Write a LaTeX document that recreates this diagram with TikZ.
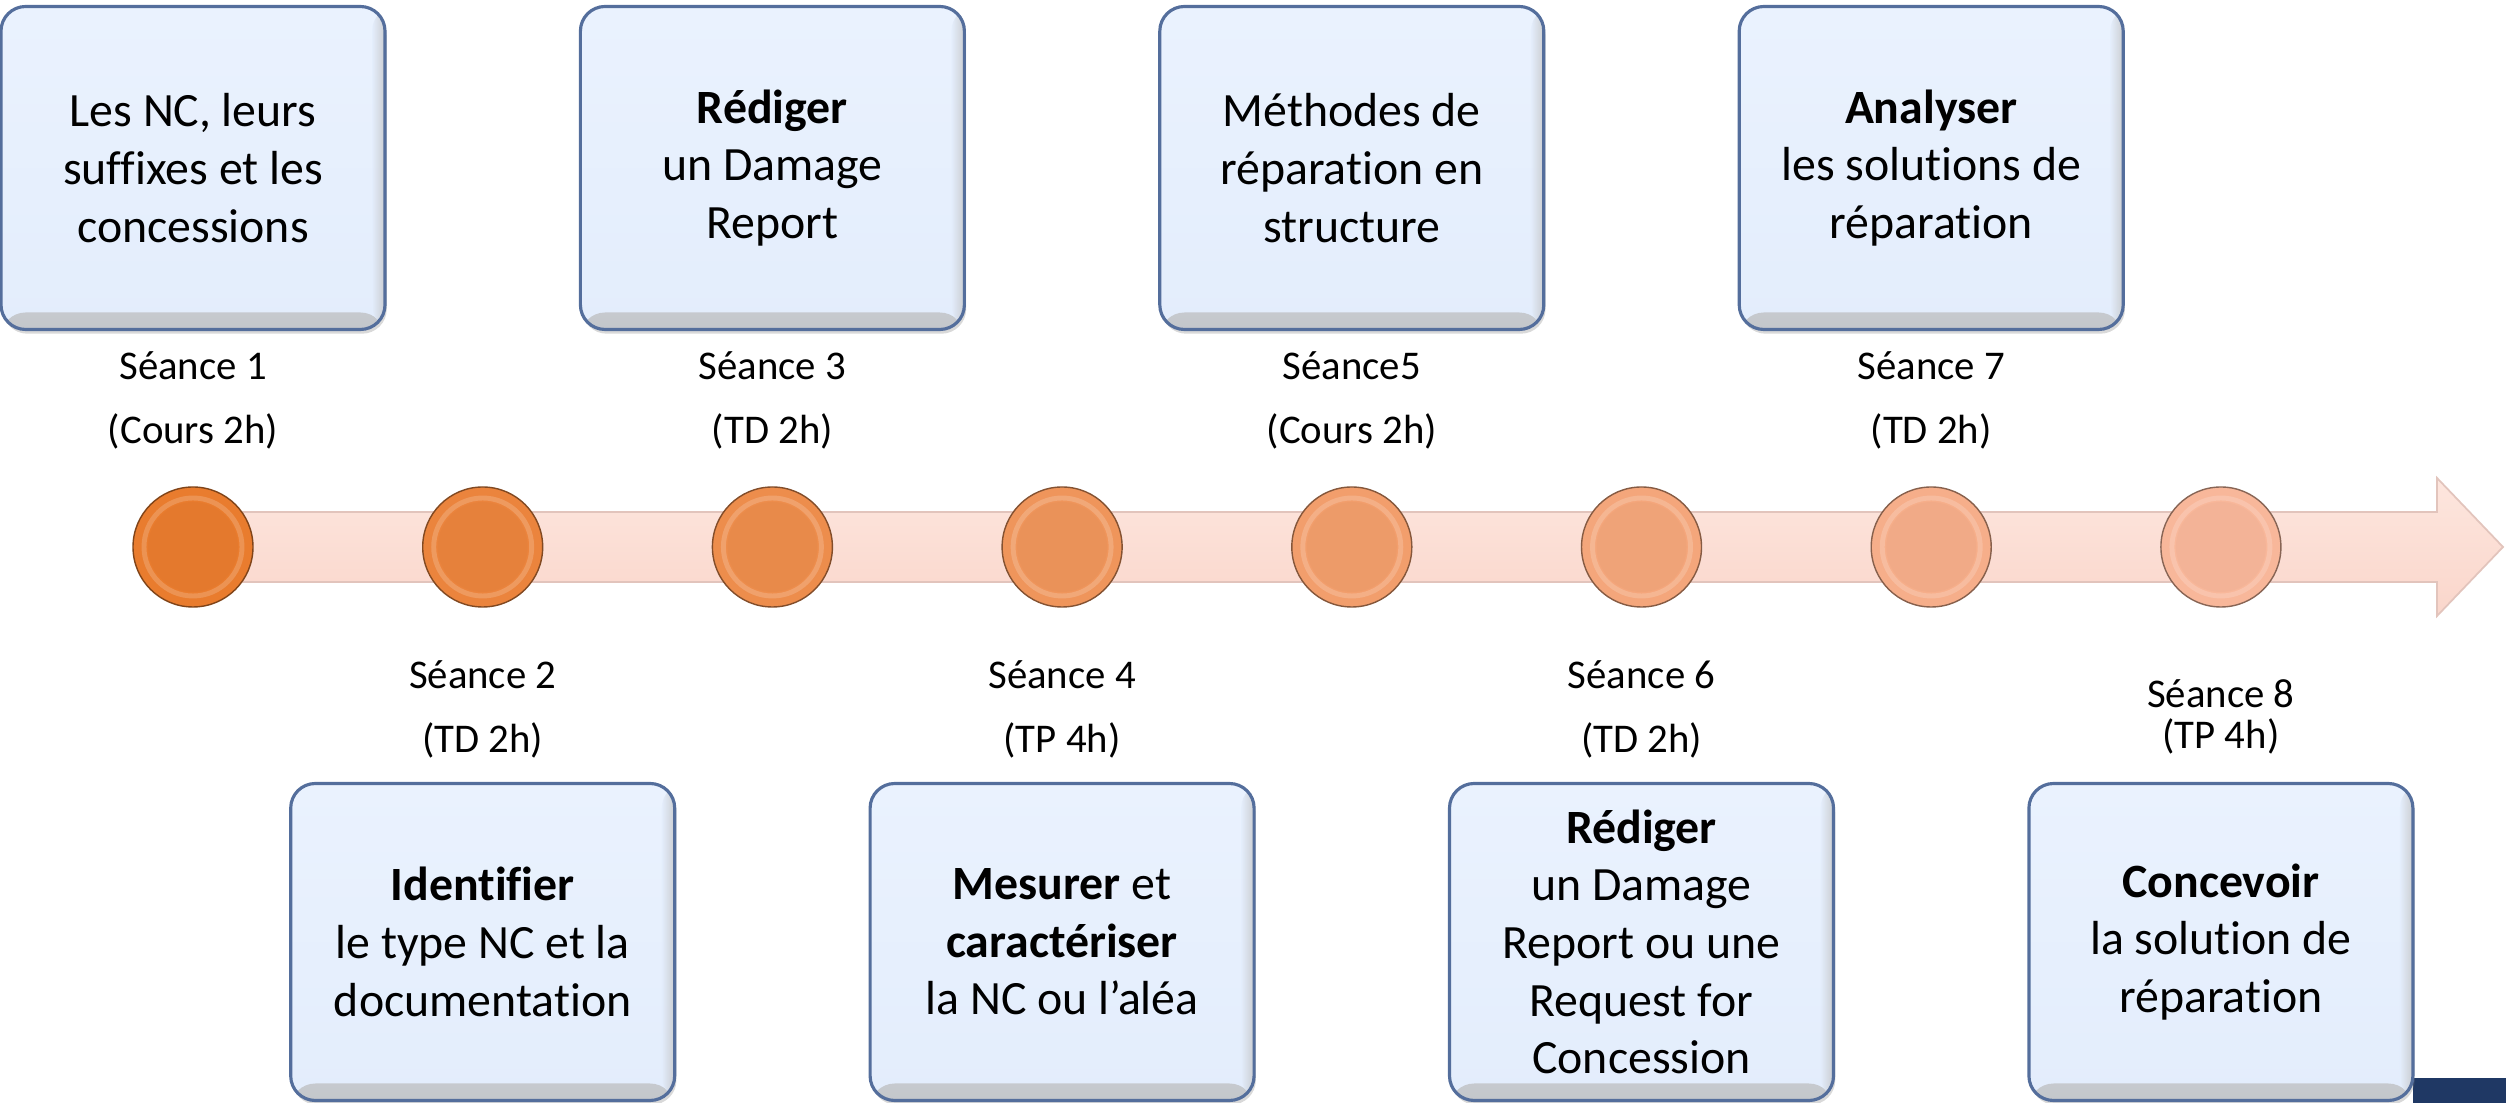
\documentclass[tikz,border=0pt]{standalone}
\usepackage{fontspec}
\setmainfont{Carlito}[Ligatures=NoCommon]
\usepackage{tikz}
\usetikzlibrary{calc,shadows}

\definecolor{boxfill}{RGB}{227,237,252}
\definecolor{boxtop}{RGB}{234,242,254}
\definecolor{boxedge}{RGB}{84,110,156}
\definecolor{bandtop}{RGB}{253,230,222}
\definecolor{bandbot}{RGB}{250,214,203}
\definecolor{bandedge}{RGB}{226,196,188}
\definecolor{dotdark}{RGB}{233,124,46}
\definecolor{dotlight}{RGB}{248,183,154}
\definecolor{slidenavy}{RGB}{31,56,100}

\begin{document}
\begin{tikzpicture}[
    box/.style={draw=boxedge, line width=0.9pt, rounded corners=7pt,
                top color=boxtop, bottom color=boxfill,
                minimum width=3.84cm, align=center, inner sep=2pt,
                font=\fontsize{13.6}{16.4}\selectfont,
                drop shadow={shadow xshift=0.5pt, shadow yshift=-1.2pt, opacity=.3},
                path picture={
                  \shade[top color=boxfill, bottom color=black!28, opacity=.7]
                    (path picture bounding box.south west) rectangle
                    ([yshift=0.17cm]path picture bounding box.south east);
                  \shade[left color=boxfill, right color=black!25, opacity=.7]
                    ([xshift=-0.13cm]path picture bounding box.north east) rectangle
                    (path picture bounding box.south east);
                }},
    topbox/.style={box, minimum height=3.23cm},
    botbox/.style={box, minimum height=3.17cm},
    lbl/.style={align=center, inner sep=0pt, font=\fontsize{11.6}{18.2}\selectfont},
    dot/.style={circle, minimum size=1.2cm, inner sep=0pt, draw=#1!55!black, line width=0.4pt, fill=#1},
    band/.style={top color=bandtop, bottom color=bandbot, draw=bandedge, line width=0.5pt}
  ]
    \useasboundingbox (0,0) rectangle (25.06,11.03);

    % corner strip of the slide
    \fill[slidenavy] (24.13,0) rectangle (25.06,0.25);

    % rows
    \coordinate (top row) at (0,9.35);
    \coordinate (bot row) at (0,1.61);
    \coordinate (top lbl) at (0,7.03);
    \coordinate (bot lbl) at (0,3.94);

    % timeline arrow
    \coordinate (tl start) at (1.93,5.56);
    \coordinate (tl head)  at (24.37,5.56);
    \coordinate (tl end)   at (25.03,5.56);
    \path[band] ($(tl start)+(0,0.35)$) -- ($(tl head)+(0,0.35)$)
      -- ($(tl head)+(0,0.69)$) -- (tl end) -- ($(tl head)+(0,-0.69)$)
      -- ($(tl head)+(0,-0.35)$) -- ($(tl start)+(0,-0.35)$) -- cycle;

    % session dots
    \foreach \i in {1,...,8} {
      \pgfmathsetmacro\x{1.93+(\i-1)*2.897}
      \pgfmathtruncatemacro\p{(\i-1)*100/7}
      \colorlet{dotcol}{dotlight!\p!dotdark}
      \node[dot=dotcol] (c\i) at (\x,5.56) {};
      \draw[white, opacity=.18, line width=1.4pt] (c\i) circle (0.49);
      \fill[dotcol!95!black, opacity=.35] (c\i) circle (0.45);
    }

    % sessions above the line
    \foreach \i/\txt in {
        1/{Les NC, leurs\\suffixes et les\\concessions},
        3/{\textbf{Rédiger}\\un Damage\\Report},
        5/{Méthodes de\\réparation en\\structure},
        7/{\textbf{Analyser}\\les solutions de\\réparation}}
      \node[topbox] (b\i) at (c\i |- top row) {\txt};

    % sessions below the line
    \foreach \i/\txt in {
        2/{\textbf{Identifier}\\le type NC et la\\documentation},
        4/{\textbf{Mesurer} et\\\textbf{caractériser}\\la NC ou l’aléa},
        6/{\textbf{Rédiger}\\un Damage\\Report ou une\\Request for\\Concession},
        8/{\textbf{Concevoir}\\la solution de\\réparation}}
      \node[botbox] (b\i) at (c\i |- bot row) {\txt};

    % session labels
    \node[lbl] (s1) at (c1 |- top lbl) {Séance 1\\(Cours  2h)};
    \node[lbl] (s3) at (c3 |- top lbl) {Séance 3\\(TD 2h)};
    \node[lbl] (s5) at (c5 |- top lbl) {Séance5\\(Cours  2h)};
    \node[lbl] (s7) at (c7 |- top lbl) {Séance 7\\(TD 2h)};
    \node[lbl] (s2) at (c2 |- bot lbl) {Séance 2\\(TD 2h)};
    \node[lbl] (s4) at (c4 |- bot lbl) {Séance 4\\(TP 4h)};
    \node[lbl] (s6) at (c6 |- bot lbl) {Séance 6\\(TD 2h)};
    \node[lbl, font=\fontsize{11.6}{11.7}\selectfont, yshift=-0.08cm] (s8)
      at (c8 |- bot lbl) {Séance 8\\(TP 4h)};
  \end{tikzpicture}
\end{document}
